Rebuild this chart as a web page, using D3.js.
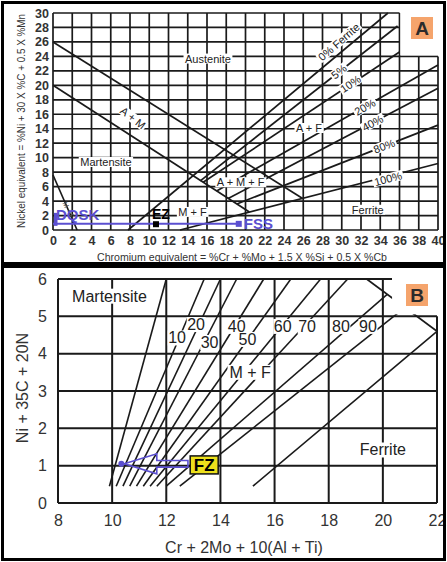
<!DOCTYPE html>
<html><head><meta charset="utf-8">
<script src="https://cdn.jsdelivr.net/npm/d3@7/dist/d3.min.js"></script>
<style>
html,body{margin:0;padding:0;background:#fff;}
svg{display:block;font-family:"Liberation Sans",Arial,Helvetica,sans-serif;}
</style></head><body>
<svg id="chart" width="447" height="562"></svg>
<script>
// ---------- Panel A: Schaeffler diagram ----------
const crTicksA = d3.range(0, 41, 2);
const niTicksA = d3.range(0, 31, 2);

// austenite / martensite boundaries and the small corner line, [Cr_eq, Ni_eq]
const phaseLinesA = [
  [[0, 26], [25.9, 4.4]],
  [[0, 20], [20.4, 2.5]],
  [[0, 7.6], [2.5, 0]]
];

// iso-ferrite lines, fanning out from the martensite boundary
const ferriteNamesA = ["0% Ferrite", "5%", "10%", "20%", "40%", "80%", "100%"];
const ferriteFromA = [[7.8, 0], [15.3, 6.8], [15.6, 6.6], [17.0, 5.4], [18.2, 4.35], [19.1, 3.6], [13.2, 0]];
const ferriteToA = [[34.8, 30], [35.8, 28.2], [36.0, 24.6], [40, 22.8], [40, 19.6], [40, 14.5], [40, 9.2]];
const ferriteLabelAtA = [[29.7, 26], [29.7, 21.9], [30.9, 20.2], [32.4, 17], [33.2, 14.8], [34.4, 11.6], [34.8, 7.1]];
const ferriteLabelRotA = [-41, -38, -34, -30, -28, -21, -15];

const regionTextA = ["Austenite", "Martensite", "A + M", "A + F", "A + M + F", "M + F", "Ferrite"];
const regionPosA = [[16.1, 23.7], [5.5, 9.4], [8.3, 15.5], [26.6, 14.1], [19.5, 6.6], [14.5, 2.5], [32.7, 2.8]];
const regionRotA = [0, 0, 38, 0, 0, 0, 0];
const cornerTextA = "M + F";
const cornerPosA = [1.4, 2.6];

// welded steel compositions
const dqskAt = [0, 0.85];
const fssAt = [19.3, 0.85];
const ezAt = [10.7, 0.8];

// ---------- Panel B: ferrite / martensite diagram ----------
const xTicksB = d3.range(8, 23, 2);
const yTicksB = d3.range(0, 7, 1);
const fanFromB = [[9.9, 0.45], [10.15, 0.45], [10.4, 0.45], [10.65, 0.45], [10.9, 0.45], [11.15, 0.45], [11.4, 0.45], [11.65, 0.45], [12.0, 0.45], [12.5, 0.45], [15.2, 0.45]];
const fanToB = [[12.0, 6], [13.4, 6], [14.0, 6], [14.6, 6], [15.6, 6], [16.6, 6], [17.7, 6], [18.7, 6], [20.16, 5.59], [20.82, 5.24], [22, 4.6]];
const pctTextB = ["10", "20", "30", "40", "50", "60", "70", "80", "90"];
const pctPosB = [[12.4, 4.42], [13.1, 4.78], [13.6, 4.3], [14.6, 4.73], [15.0, 4.38], [16.3, 4.73], [17.2, 4.73], [18.45, 4.73], [19.45, 4.73]];
const capLineB = [[19.4, 6], [22, 4.6]];
const regionTextB = ["Martensite", "M + F", "Ferrite"];
const regionPosB = [[9.9, 5.54], [15.1, 3.5], [20.0, 1.42]];
const fzAt = [13.4, 1.02];
const arrowTipB = [10.45, 1.05];
const arrowHeadBackB = 11.65;
const arrowTailB = 12.8;
const arrowHeadHalfB = 0.27;
const arrowShaftHalfB = 0.09;

const svg = d3.select("#chart");
const INK = "#1a1a1a";
const BLUE = "#5b4fd0";

function labelWithBg(g, text, x, y, rot, size, opts = {}) {
  const t = g.append("g").attr("transform", `translate(${x},${y}) rotate(${rot})`);
  const bg = t.append("rect").attr("fill", "#fff");
  const tx = t.append("text").text(text)
    .attr("text-anchor", "middle").attr("dominant-baseline", "central")
    .attr("font-size", size).attr("fill", opts.fill || "#222")
    .attr("font-weight", opts.weight || "normal");
  const b = tx.node().getBBox();
  const p = opts.pad == null ? 1.5 : opts.pad;
  bg.attr("x", b.x - p).attr("y", b.y + 1).attr("width", b.width + 2 * p).attr("height", b.height - 2);
  return t;
}

// ===== Panel A =====
const xA = d3.scaleLinear().domain([0, 40]).range([53, 438]);
const yA = d3.scaleLinear().domain([0, 30]).range([230, 13]);
const gA = svg.append("g");
const lineA = d3.line().x(d => xA(d[0])).y(d => yA(d[1]));

gA.append("g").selectAll("line").data(crTicksA).join("line")
  .attr("x1", d => xA(d)).attr("x2", d => xA(d))
  .attr("y1", yA(0)).attr("y2", d => yA(d > 36 ? 24 : 30))
  .attr("stroke", INK).attr("stroke-width", 1.7);
gA.append("g").selectAll("line").data(niTicksA).join("line")
  .attr("y1", d => yA(d)).attr("y2", d => yA(d))
  .attr("x1", xA(0)).attr("x2", d => xA(d > 24 ? 36 : 40))
  .attr("stroke", INK).attr("stroke-width", 1.7);

gA.append("g").selectAll("path").data(phaseLinesA).join("path")
  .attr("d", lineA).attr("fill", "none").attr("stroke", INK).attr("stroke-width", 1.7);
gA.append("g").selectAll("path").data(ferriteFromA.map((p, i) => [p, ferriteToA[i]])).join("path")
  .attr("d", lineA).attr("fill", "none").attr("stroke", INK).attr("stroke-width", 1.7);

// corner cut holding the panel badge
gA.append("rect").attr("x", xA(36) + 1).attr("y", 6).attr("width", 442 - xA(36)).attr("height", yA(24) - 7).attr("fill", "#fff");

regionTextA.forEach((t, i) => labelWithBg(gA, t, xA(regionPosA[i][0]), yA(regionPosA[i][1]), regionRotA[i], 11));
ferriteNamesA.forEach((t, i) => labelWithBg(gA, t, xA(ferriteLabelAtA[i][0]), yA(ferriteLabelAtA[i][1]), ferriteLabelRotA[i], 11));
gA.append("text").text(cornerTextA)
  .attr("transform", `translate(${xA(cornerPosA[0])},${yA(cornerPosA[1])}) rotate(62)`)
  .attr("text-anchor", "middle").attr("font-size", 7).attr("fill", "#555");

// composition markers
gA.append("line").attr("x1", xA(dqskAt[0])).attr("x2", xA(fssAt[0]))
  .attr("y1", yA(dqskAt[1])).attr("y2", yA(fssAt[1])).attr("stroke", BLUE).attr("stroke-width", 2);
gA.append("rect").attr("x", xA(dqskAt[0]) + 1).attr("y", yA(dqskAt[1]) - 11).attr("width", 3.5).attr("height", 13).attr("fill", BLUE);
gA.append("rect").attr("x", xA(fssAt[0]) - 3).attr("y", yA(fssAt[1]) - 3).attr("width", 6).attr("height", 6).attr("fill", BLUE);
gA.append("text").text("FSS").attr("x", xA(fssAt[0]) + 5).attr("y", yA(fssAt[1]) + 5.5)
  .attr("font-size", 15).attr("font-weight", "bold").attr("fill", BLUE);
gA.append("text").text("DQSK").attr("x", xA(dqskAt[0]) + 3).attr("y", yA(dqskAt[1]) - 4)
  .attr("font-size", 15).attr("font-weight", "bold").attr("fill", BLUE);
gA.append("rect").attr("x", xA(ezAt[0]) - 3).attr("y", yA(ezAt[1]) - 3).attr("width", 6).attr("height", 6).attr("fill", "#000");
gA.append("text").text("EZ").attr("x", xA(ezAt[0]) - 4).attr("y", yA(ezAt[1]) - 5)
  .attr("font-size", 14).attr("font-weight", "bold").attr("fill", "#000");

// axes
const axLA = gA.append("g").attr("transform", `translate(${xA(0)},0)`)
  .call(d3.axisLeft(yA).tickValues(niTicksA).tickSize(0).tickPadding(4).tickFormat(d3.format("d")));
const axBA = gA.append("g").attr("transform", `translate(0,${yA(0)})`)
  .call(d3.axisBottom(xA).tickValues(crTicksA).tickSize(0).tickPadding(6.5).tickFormat(d3.format("d")));
[axLA, axBA].forEach(a => {
  a.select(".domain").remove();
  a.selectAll("text").attr("font-size", 12.5).attr("font-weight", "bold").attr("fill", "#333")
    .attr("font-family", '"Liberation Sans",Arial,sans-serif');
});
gA.append("text").text("Chromium equivalent = %Cr + %Mo + 1.5 X %Si + 0.5 X %Cb")
  .attr("x", 242).attr("y", 260.5).attr("text-anchor", "middle").attr("font-size", 10.5)
  .attr("textLength", 290).attr("lengthAdjust", "spacingAndGlyphs").attr("fill", "#333");
gA.append("text").text("Nickel equivalent = %Ni + 30 X %C + 0.5 X %Mn")
  .attr("transform", "translate(25,121) rotate(-90)").attr("text-anchor", "middle").attr("font-size", 10.5)
  .attr("textLength", 214).attr("lengthAdjust", "spacingAndGlyphs").attr("fill", "#333");

gA.append("rect").attr("x", 411).attr("y", 17).attr("width", 22).attr("height", 22).attr("fill", "#f5a46c");
gA.append("text").text("A").attr("x", 422).attr("y", 35).attr("text-anchor", "middle")
  .attr("font-size", 19).attr("font-weight", "bold").attr("fill", "#2b2b2b");

// ===== Panel B =====
const xB = d3.scaleLinear().domain([8, 22]).range([58, 437]);
const yB = d3.scaleLinear().domain([0, 6]).range([503, 279]);
const gB = svg.append("g");
const lineB = d3.line().x(d => xB(d[0])).y(d => yB(d[1]));

gB.append("g").selectAll("line").data(xTicksB).join("line")
  .attr("x1", d => xB(d)).attr("x2", d => xB(d))
  .attr("y1", yB(0)).attr("y2", d => yB(d > 20 ? 5 : 6))
  .attr("stroke", INK).attr("stroke-width", 2);
gB.append("g").selectAll("line").data(yTicksB).join("line")
  .attr("y1", d => yB(d)).attr("y2", d => yB(d))
  .attr("x1", xB(8)).attr("x2", d => xB(d > 5 ? 20.34 : 22))
  .attr("stroke", INK).attr("stroke-width", 2);

gB.append("g").selectAll("path").data(fanFromB.map((p, i) => [p, fanToB[i]])).join("path")
  .attr("d", lineB).attr("fill", "none").attr("stroke", INK).attr("stroke-width", 1.6);
gB.append("path").datum(capLineB).attr("d", lineB).attr("fill", "none").attr("stroke", INK).attr("stroke-width", 1.6);

gB.append("rect").attr("x", xB(20.34)).attr("y", 270).attr("width", 442 - xB(20.34)).attr("height", yB(5) - 272).attr("fill", "#fff");

pctTextB.forEach((t, i) => labelWithBg(gB, t, xB(pctPosB[i][0]), yB(pctPosB[i][1]), 0, 16, { fill: "#222", pad: 0.5 }));
regionTextB.forEach((t, i) => labelWithBg(gB, t, xB(regionPosB[i][0]), yB(regionPosB[i][1]), 0, 16, { fill: "#222", pad: 2 }));

// fusion-zone arrow and marker
const ax0 = xB(arrowTipB[0]), ay = yB(arrowTipB[1]);
const hb = xB(arrowHeadBackB), tl = xB(arrowTailB);
const hh = yB(0) - yB(arrowHeadHalfB), sh = yB(0) - yB(arrowShaftHalfB);
gB.append("path")
  .attr("d", `M${ax0},${ay} L${hb},${ay - hh} L${hb},${ay - sh} L${tl},${ay - sh} L${tl},${ay + sh} L${hb},${ay + sh} L${hb},${ay + hh} Z`)
  .attr("fill", "none").attr("stroke", BLUE).attr("stroke-width", 1.6);
gB.append("circle").attr("cx", ax0 - 3).attr("cy", ay).attr("r", 3).attr("fill", BLUE);
const fz = gB.append("g").attr("transform", `translate(${xB(fzAt[0])},${yB(fzAt[1])})`);
fz.append("rect").attr("x", -14).attr("y", -9).attr("width", 28).attr("height", 18).attr("fill", "#ecdf1c").attr("stroke", "#111").attr("stroke-width", 1.5);
fz.append("text").text("FZ").attr("text-anchor", "middle").attr("y", 6.5).attr("font-size", 17).attr("font-weight", "bold").attr("fill", "#000");

const axLB = gB.append("g").attr("transform", `translate(${xB(8)},0)`)
  .call(d3.axisLeft(yB).tickValues(yTicksB).tickSize(0).tickPadding(11).tickFormat(d3.format("d")));
const axBB = gB.append("g").attr("transform", `translate(0,${yB(0)})`)
  .call(d3.axisBottom(xB).tickValues(xTicksB).tickSize(0).tickPadding(11.5).tickFormat(d3.format("d")));
[axLB, axBB].forEach(a => {
  a.select(".domain").remove();
  a.selectAll("text").attr("font-size", 16).attr("fill", "#333")
    .attr("font-family", '"Liberation Sans",Arial,sans-serif');
});
gB.append("text").text("Cr + 2Mo + 10(Al + Ti)").attr("x", 244).attr("y", 553)
  .attr("text-anchor", "middle").attr("font-size", 16).attr("fill", "#333");
gB.append("text").text("Ni + 35C + 20N").attr("transform", "translate(28,388) rotate(-90)")
  .attr("text-anchor", "middle").attr("font-size", 16).attr("fill", "#333");

gB.append("rect").attr("x", 406).attr("y", 284).attr("width", 22).attr("height", 22).attr("fill", "#f5a46c");
gB.append("text").text("B").attr("x", 417).attr("y", 302).attr("text-anchor", "middle")
  .attr("font-size", 19).attr("font-weight", "bold").attr("fill", "#2b2b2b");

// panel frames
svg.append("rect").attr("x", 2.5).attr("y", 2.5).attr("width", 442).attr("height", 261).attr("fill", "none").attr("stroke", "#000").attr("stroke-width", 3);
svg.append("rect").attr("x", 2.5).attr("y", 266.5).attr("width", 442).attr("height", 293).attr("fill", "none").attr("stroke", "#000").attr("stroke-width", 3);
</script>
</body></html>
